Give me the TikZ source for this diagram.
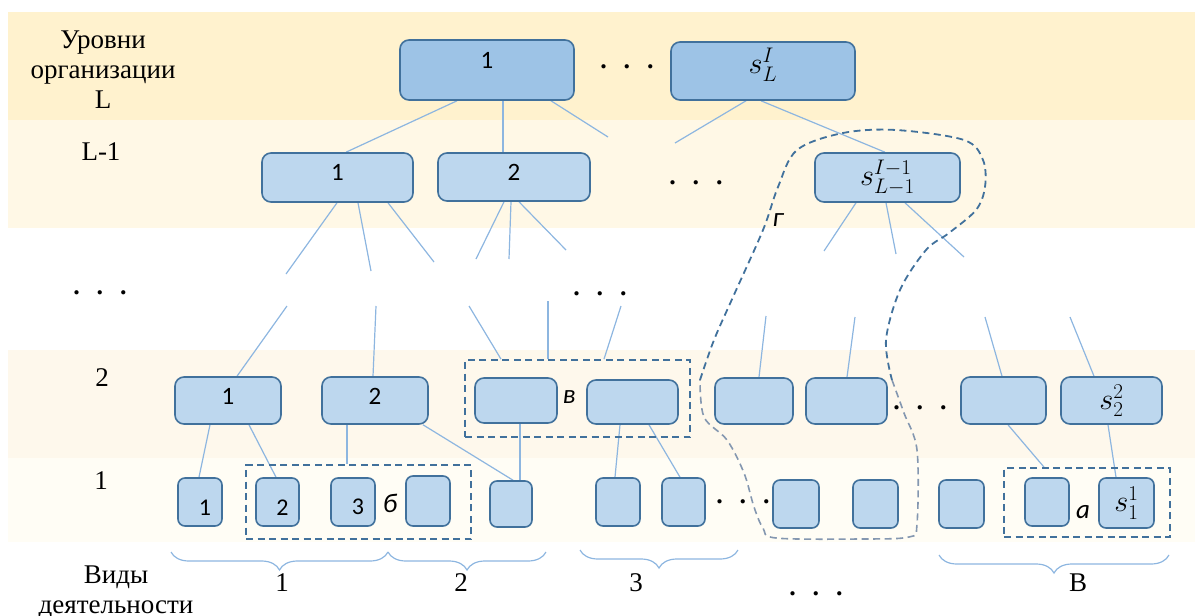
\documentclass[tikz,border=0pt]{standalone}
\usepackage{fontspec}
\setmainfont{Liberation Serif}
\newfontfamily\calib{Carlito}
\usetikzlibrary{calc,decorations.pathreplacing}
\pgfdeclarelayer{bg}
\pgfdeclarelayer{mid}
\pgfsetlayers{bg,mid,main}
\newcommand{\bigmath}[1]{\scalebox{1.22}{$#1$}}
\definecolor{bandL}{HTML}{FFF2CE}
\definecolor{bandLa}{HTML}{FFF8E6}
\definecolor{bandB}{HTML}{FEF8EC}
\definecolor{bandC}{HTML}{FFFDF5}
\definecolor{bdr}{HTML}{41719C}
\definecolor{fillT}{HTML}{9DC3E6}
\definecolor{fillM}{HTML}{BDD7EE}
\definecolor{connc}{HTML}{8DB6E0}
\definecolor{grayd}{HTML}{8497B0}
\begin{document}
\begin{tikzpicture}[x=1pt,y=-1pt,
  lvlT/.style={draw=bdr, fill=fillT, line width=1.6pt, rounded corners=9pt, inner sep=0pt,
    font=\calib\fontsize{25}{25}\selectfont},
  lvlM/.style={lvlT, fill=fillM},
  smallbox/.style={lvlM, rounded corners=7pt, font=\calib\fontsize{24}{24}\selectfont},
  mathtxt/.style={font=\fontsize{24}{24}\selectfont},
  conn/.style={draw=connc, line width=1.2pt},
  dbox/.style={draw=bdr, dash pattern=on 7pt off 4.5pt, line width=1.8pt, inner sep=0pt},
  lbl/.style={font=\fontsize{27}{30}\selectfont, align=center, inner sep=0pt},
  ital/.style={font=\calib\itshape\fontsize{27}{27}\selectfont, inner sep=0pt},
  dotrow/.style={font=\bfseries\fontsize{26}{26}\selectfont, inner sep=0pt},
  brc/.style={draw=connc, line width=1.2pt, decorate, decoration={brace, mirror, amplitude=18pt}},
  gcurve/.style={draw=bdr, line width=1.8pt, dash pattern=on 7pt off 4.5pt},
  gcurveb/.style={draw=grayd, line width=1.6pt, dash pattern=on 7pt off 4.5pt},
]
\useasboundingbox (0,0) rectangle (1195,616);
\begin{pgfonlayer}{bg}
\fill[bandL] (8,12) rectangle (1195,120);
\fill[bandLa] (8,120) rectangle (1195,228);
\fill[bandB] (8,350) rectangle (1195,458);
\fill[bandC] (8,458) rectangle (1195,542);
\end{pgfonlayer}

% left labels
\node[lbl] (lvlname) at (103,70) {Уровни\\организации\\L};
\node[lbl] (lLm1) at (101,152) {L-1};
\node[dotrow] (ldots) at (100,293) {.\hspace{17pt}.\hspace{17pt}.};
\node[lbl] (l2) at (102,378) {2};
\node[lbl] (l1) at (101,481) {1};
\node[lbl] (vidy) at (116,592) {Виды\\деятельности};

% top level
\node[lvlT, minimum width=174, minimum height=60, text depth=19pt] (T1) at (487,70) {1};
\node[dotrow] (tdots) at (627,67) {.\hspace{17pt}.\hspace{17pt}.};
\node[lvlT, mathtxt, minimum width=184, minimum height=58, text depth=20pt] (TS) at (763,71) {\bigmath{s_L^I}};

% level L-1
\node[lvlM, minimum width=151, minimum height=49, text depth=10pt] (A1) at (337.5,177.5) {1};
\node[lvlM, minimum width=152, minimum height=48, text depth=10pt] (A2) at (514,177) {2};
\node[dotrow] (adots) at (696,183) {.\hspace{17pt}.\hspace{17pt}.};
\node[lvlM, mathtxt, minimum width=145, minimum height=49] (A3) at (887.5,177.5) {\bigmath{s_{L-1}^{I-1}}};

\node[dotrow] (mdots) at (600,294) {.\hspace{17pt}.\hspace{17pt}.};

% level 2
\node[lvlM, minimum width=106, minimum height=47, text depth=8pt] (B1) at (228,400.5) {1};
\node[lvlM, minimum width=106, minimum height=47, text depth=8pt] (B2) at (375,400.5) {2};
\node[lvlM, minimum width=82, minimum height=45] (B3) at (516,400.5) {};
\node[lvlM, minimum width=91, minimum height=44] (B4) at (632.5,402) {};
\node[lvlM, minimum width=78, minimum height=46] (B5) at (754,401) {};
\node[lvlM, minimum width=81, minimum height=46] (B6) at (846.5,401) {};
\node[dotrow] (bdots) at (920,408) {.\hspace{17pt}.\hspace{17pt}.};
\node[lvlM, minimum width=85, minimum height=47] (B7) at (1003.5,400.5) {};
\node[lvlM, mathtxt, minimum width=101, minimum height=47] (B8) at (1111.5,400.5) {\bigmath{s_2^2}};
\node[dbox, minimum width=225, minimum height=77] (VB) at (577.5,398.5) {};
\node[ital] (vlab) at (569,397) {в};

% level 1
\node[smallbox, minimum width=44, minimum height=48, text height=26pt, text width=22pt, align=right] (C1) at (200,502) {1};
\node[smallbox, minimum width=43, minimum height=48, text height=26pt, text width=22pt, align=right] (C2) at (277.5,502) {2};
\node[smallbox, minimum width=44, minimum height=48, text height=26pt, text width=22pt, align=right] (C3) at (353,502) {3};
\node[smallbox, minimum width=44, minimum height=50] (C4) at (428,501) {};
\node[smallbox, minimum width=42, minimum height=46] (C5) at (511,504) {};
\node[smallbox, minimum width=44, minimum height=48] (C6) at (618,502) {};
\node[smallbox, minimum width=43, minimum height=48] (C7) at (683.5,502) {};
\node[dotrow] (cdots) at (743,502) {.\hspace{17pt}.\hspace{17pt}.};
\node[smallbox, minimum width=46, minimum height=48] (C8) at (796,504) {};
\node[smallbox, minimum width=45, minimum height=48] (C9) at (875.5,504) {};
\node[smallbox, minimum width=45, minimum height=48] (C10) at (961.5,504) {};
\node[smallbox, minimum width=44, minimum height=48] (C11) at (1047,502) {};
\node[smallbox, mathtxt, minimum width=55, minimum height=50] (C12) at (1126.5,503) {\bigmath{s_1^1}};
\node[dbox, minimum width=225, minimum height=74] (BB) at (358.5,502) {};
\node[ital] (blab) at (390,503) {б};
\node[dbox, minimum width=166, minimum height=69] (AB) at (1087,502.5) {};
\node[ital] (alab) at (1083,512) {а};

% g curve
\draw[gcurve] plot[smooth, tension=0.55] coordinates {(700,380) (714,340) (733,297) (763,230) (778,187) (797,150) (843,133) (896,130) (964,140) (983,160) (985,187) (976,210) (949,233) (926,250) (900,290) (886,340) (892,380)};
\draw[gcurveb] plot[smooth, tension=0.55] coordinates {(892,380) (904,413) (917,450) (917,524) (909,537) (860,539) (776,538) (763,528) (754,507) (744,473) (727,440) (704,417) (700,380)};
\node[ital] (glab) at (778,220) {г};

% free ends
\coordinate (f1) at (608,137);
\coordinate (f2) at (675,143);
\coordinate (a1a) at (286,274);
\coordinate (a1b) at (371,271);
\coordinate (a1c) at (434,262);
\coordinate (a2a) at (476,259);
\coordinate (a2b) at (509,259);
\coordinate (a2c) at (566,250);
\coordinate (a3a) at (824,251);
\coordinate (a3b) at (896,254);
\coordinate (a3c) at (964,257);
\coordinate (b1u) at (287,306);
\coordinate (b2u) at (376,306);
\coordinate (v1u) at (469,306);
\coordinate (v2u) at (548,301);
\coordinate (v3u) at (621,306);
\coordinate (b5u) at (766,316);
\coordinate (b6u) at (855,317);
\coordinate (b7u) at (985,317);
\coordinate (b8u) at (1070,317);

\begin{pgfonlayer}{mid}
\draw[conn] ($(T1.south)+(-30,0)$) -- ($(A1.north)+(8.5,0)$);
\draw[conn] ($(T1.south)+(16,0)$) -- ($(A2.north)+(-11,0)$);
\draw[conn] ($(T1.south)+(64,0)$) -- (f1);
\draw[conn] ($(TS.south)+(-17,0)$) -- (f2);
\draw[conn] ($(TS.south)+(-2,0)$) -- ($(A3.north)+(-2.5,0)$);
\draw[conn] ($(A1.south)+(-0.5,0)$) -- (a1a);
\draw[conn] ($(A1.south)+(20.5,0)$) -- (a1b);
\draw[conn] ($(A1.south)+(50.5,0)$) -- (a1c);
\draw[conn] ($(A2.south)+(-10,0)$) -- (a2a);
\draw[conn] ($(A2.south)+(-3,0)$) -- (a2b);
\draw[conn] ($(A2.south)+(5,0)$) -- (a2c);
\draw[conn] ($(A3.south)+(-31.5,0)$) -- (a3a);
\draw[conn] ($(A3.south)+(-1.5,0)$) -- (a3b);
\draw[conn] ($(A3.south)+(17.5,0)$) -- (a3c);
\draw[conn] ($(B1.north)+(9,0)$) -- (b1u);
\draw[conn] ($(B2.north)+(-2,0)$) -- (b2u);
\draw[conn] ($(VB.north)+(-76.5,0)$) -- (v1u);
\draw[conn] ($(VB.north)+(-29.5,0)$) -- (v2u);
\draw[conn] ($(VB.north)+(26.5,0)$) -- (v3u);
\draw[conn] ($(B5.north)+(5,0)$) -- (b5u);
\draw[conn] ($(B6.north)+(0.5,0)$) -- (b6u);
\draw[conn] ($(B7.north)+(-1.5,0)$) -- (b7u);
\draw[conn] ($(B8.north)+(-17.5,0)$) -- (b8u);
\draw[conn] ($(B1.south)+(-18,0)$) -- ($(C1.north)+(-1,0)$);
\draw[conn] ($(B1.south)+(21,0)$) -- ($(C2.north)+(-1.5,0)$);
\draw[conn] ($(B2.south)+(-28,0)$) -- ($(BB.north)+(-11.5,0)$);
\draw[conn] ($(B2.south)+(48,0)$) -- ($(C5.north)+(2,0)$);
\draw[conn] ($(B3.south)+(4,0)$) -- ($(C5.north)+(9,0)$);
\draw[conn] ($(B4.south)+(-12.5,0)$) -- ($(C6.north)+(-3,0)$);
\draw[conn] ($(B4.south)+(16.5,0)$) -- ($(C7.north)+(-3.5,0)$);
\draw[conn] ($(B7.south)+(4.5,0)$) -- ($(AB.north)+(-43,0)$);
\draw[conn] ($(B8.south)+(-3.5,0)$) -- ($(C12.north)+(-10.5,0)$);
\end{pgfonlayer}

% braces
\draw[brc] (171,552) -- (388,552);
\draw[brc] (388,552) -- (546,552);
\draw[brc] (580,550) -- (738,550);
\draw[brc] (939,555) -- (1169,555);
\node[lbl] (v1) at (282,583) {1};
\node[lbl] (v2) at (461,583) {2};
\node[lbl] (v3) at (636,583) {3};
\node[dotrow] (vdots) at (816,594) {.\hspace{17pt}.\hspace{17pt}.};
\node[lbl] (vB) at (1078,583) {В};
\end{tikzpicture}
\end{document}
